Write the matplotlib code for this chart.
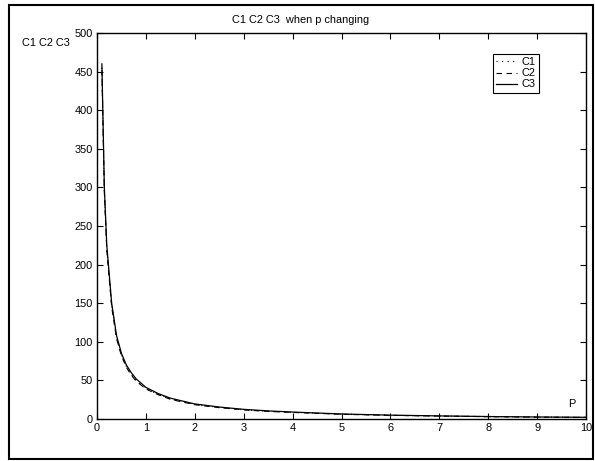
import matplotlib
matplotlib.use("Agg")
import matplotlib.pyplot as plt
from matplotlib.patches import Rectangle

plt.rcParams['font.family'] = ['Liberation Sans', 'DejaVu Sans']

p = [0.1, 0.15, 0.2, 0.3, 0.4, 0.5, 0.6, 0.7, 0.8, 1.0, 1.25, 1.5, 2.0, 2.5, 3.0, 3.5, 4.0, 5.0, 6.0, 7.0, 8.0, 9.0, 10.0]
c1 = [455, 296, 221, 147, 106, 83, 68, 58, 50, 39.5, 32, 26, 19, 15, 12, 10, 8.7, 6.3, 4.8, 3.9, 3.1, 2.5, 2.1]
c2 = [452, 294, 219, 145, 104, 82, 67, 57, 49, 39, 31.5, 25.5, 18.5, 14.7, 11.8, 9.8, 8.5, 6.1, 4.7, 3.8, 3.0, 2.4, 2.0]
c3 = [460, 300, 225, 150, 108, 85, 70, 60, 52, 41, 33, 27, 19.5, 15.5, 12.5, 10.5, 9.0, 6.5, 5.0, 4.0, 3.2, 2.6, 2.2]

title = "C1 C2 C3  when p changing"
ylabel = "C1 C2 C3"
xlabel = "P"
xticks = list(range(0, 11))
yticks = list(range(0, 501, 50))

FS = 7.9
W, H = 595, 461

fig = plt.figure(figsize=(5.95, 4.61), dpi=100)
ax = fig.add_axes([97/W, 1-419/H, (586-97)/W, (419-33)/H])

ax.plot(p, c1, color='black', linestyle=(0, (1, 4)), linewidth=0.8, label='C1')
ax.plot(p, c2, color='black', linestyle=(0, (5, 4)), linewidth=0.8, label='C2')
ax.plot(p, c3, color='black', linestyle='-', linewidth=0.9, label='C3')

ax.set_xlim(0, 10)
ax.set_ylim(0, 500)
ax.set_xticks(xticks)
ax.set_yticks(yticks)
ax.tick_params(direction='in', top=True, right=True, length=4, width=0.8, labelsize=FS, pad=3)
for s in ax.spines.values():
    s.set_linewidth(1.0)

fig.text(301/W, 1 - 20/H, title, ha='center', va='center', fontsize=FS)
fig.text(22/W, 1 - 43/H, ylabel, ha='left', va='center', fontsize=FS)
fig.text(572/W, 1 - 404/H, xlabel, ha='center', va='center', fontsize=FS)

leg = ax.legend(loc='upper left', bbox_to_anchor=(493/W, 1 - 54/H), bbox_transform=fig.transFigure,
                borderaxespad=0, fancybox=False, edgecolor='black', framealpha=1, fontsize=FS,
                handlelength=1.9, handletextpad=0.4, borderpad=0.3, labelspacing=0.1)
leg.get_frame().set_linewidth(0.8)

fig.patches.append(Rectangle((9/W, 1 - 459/H), (593-9)/W, (459-5)/H, transform=fig.transFigure,
                             fill=False, edgecolor='black', linewidth=1.5))

fig.savefig("out.png", dpi=100)
